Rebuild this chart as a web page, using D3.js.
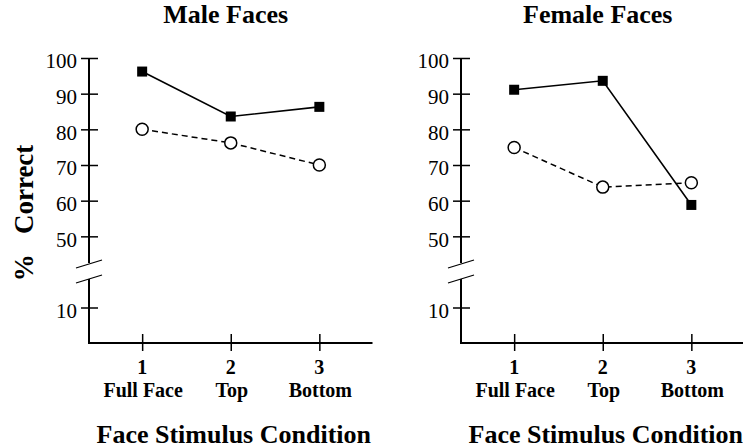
<!DOCTYPE html>
<html>
<head>
<meta charset="utf-8">
<script src="https://cdn.jsdelivr.net/npm/d3@7"></script>
<style>
  html, body { margin: 0; padding: 0; background: #fff; }
  svg { display: block; font-family: 'Liberation Serif', 'Times New Roman', serif; }
</style>
</head>
<body>
<div id="chart"></div>
<script>
// Data
const conditions = ['1', '2', '3'];
const conditionNames = ['Full Face', 'Top', 'Bottom'];
const yTickValues = [10, 50, 60, 70, 80, 90, 100];
const panelTitles = ['Male Faces', 'Female Faces'];
const maleSolid = [96.2, 83.6, 86.3];
const maleOpen = [80.0, 76.2, 70.0];
const femaleSolid = [91.1, 93.6, 58.8];
const femaleOpen = [74.9, 63.8, 65.0];

const width = 743;
const height = 448;

const svg = d3.select('#chart').append('svg')
  .attr('width', width)
  .attr('height', height)
  .attr('viewBox', [0, 0, width, height]);

// Broken y axis: 20..40 collapsed onto the break
const yBottom = 343, yBreak = 272, yTop = 58;
const y = d3.scaleLinear()
  .domain([0, 20, 40, 100])
  .range([yBottom, yBreak, yBreak, yTop]);

function drawPanel(x0, title, solid, open) {
  const g = svg.append('g');
  const xRight = x0 + 283.5;

  const x = d3.scalePoint()
    .domain(conditions)
    .range([x0, xRight])
    .padding(0.6);

  // title
  g.append('text')
    .attr('x', x('2') - 5)
    .attr('y', 23)
    .attr('text-anchor', 'middle')
    .attr('font-size', 26)
    .attr('font-weight', 'bold')
    .text(title);

  // y axis ticks + labels
  const yAxis = g.append('g')
    .attr('transform', `translate(${x0},0)`)
    .call(d3.axisLeft(y).tickValues(yTickValues).tickSize(8).tickPadding(4));
  yAxis.select('.domain').remove();
  yAxis.selectAll('.tick line')
    .attr('x1', -8).attr('x2', 9)
    .attr('stroke', '#000').attr('stroke-width', 1.5);
  yAxis.selectAll('.tick text')
    .attr('font-family', 'Liberation Serif, serif')
    .attr('font-size', 21)
    .attr('fill', '#000')
    .attr('x', -12)
    .attr('dy', '0.47em');

  // y axis line with break
  g.append('line')
    .attr('x1', x0).attr('x2', x0)
    .attr('y1', yTop).attr('y2', yBreak - 9)
    .attr('stroke', '#000').attr('stroke-width', 2);
  g.append('line')
    .attr('x1', x0).attr('x2', x0)
    .attr('y1', yBreak + 7).attr('y2', yBottom)
    .attr('stroke', '#000').attr('stroke-width', 2);
  [-8, 7].forEach(dy => {
    g.append('line')
      .attr('x1', x0 - 13).attr('y1', yBreak + dy + 4)
      .attr('x2', x0 + 13).attr('y2', yBreak + dy - 4)
      .attr('stroke', '#000').attr('stroke-width', 1.3);
  });

  // x axis
  const xAxis = g.append('g')
    .attr('transform', `translate(0,${yBottom})`)
    .call(d3.axisBottom(x).tickSize(8).tickSizeOuter(0));
  xAxis.select('.domain').remove();
  xAxis.selectAll('.tick line')
    .attr('y1', -9).attr('y2', 8)
    .attr('stroke', '#000').attr('stroke-width', 1.5);
  xAxis.selectAll('.tick text').remove();
  g.append('line')
    .attr('x1', x0 - 1).attr('x2', xRight)
    .attr('y1', yBottom).attr('y2', yBottom)
    .attr('stroke', '#000').attr('stroke-width', 2);

  conditions.forEach((c, i) => {
    g.append('text')
      .attr('x', x(c))
      .attr('y', 374)
      .attr('text-anchor', 'middle')
      .attr('font-size', 20)
      .attr('font-weight', 'bold')
      .text(c);
    g.append('text')
      .attr('x', x(c) + 1)
      .attr('y', 397)
      .attr('text-anchor', 'middle')
      .attr('font-size', 20)
      .attr('font-weight', 'bold')
      .text(conditionNames[i]);
  });

  g.append('text')
    .attr('x', x('2') + 3)
    .attr('y', 443)
    .attr('text-anchor', 'middle')
    .attr('font-size', 26)
    .attr('font-weight', 'bold')
    .text('Face Stimulus Condition');

  const line = d3.line()
    .x((d, i) => x(conditions[i]))
    .y(d => y(d));

  // open circles, dashed
  g.append('path')
    .datum(open)
    .attr('d', line)
    .attr('fill', 'none')
    .attr('stroke', '#000')
    .attr('stroke-width', 1.5)
    .attr('stroke-dasharray', '6,4');
  g.selectAll('circle.open')
    .data(open)
    .join('circle')
    .attr('class', 'open')
    .attr('cx', (d, i) => x(conditions[i]))
    .attr('cy', d => y(d))
    .attr('r', 6)
    .attr('fill', '#fff')
    .attr('stroke', '#000')
    .attr('stroke-width', 1.5);

  // filled squares, solid
  g.append('path')
    .datum(solid)
    .attr('d', line)
    .attr('fill', 'none')
    .attr('stroke', '#000')
    .attr('stroke-width', 1.6);
  g.selectAll('rect.solid')
    .data(solid)
    .join('rect')
    .attr('class', 'solid')
    .attr('x', (d, i) => x(conditions[i]) - 5)
    .attr('y', d => y(d) - 5)
    .attr('width', 10)
    .attr('height', 10)
    .attr('fill', '#000');
}

drawPanel(89, panelTitles[0], maleSolid, maleOpen);
drawPanel(461, panelTitles[1], femaleSolid, femaleOpen);

// shared y label
svg.append('text')
  .attr('transform', 'translate(33,213) rotate(-90)')
  .attr('text-anchor', 'middle')
  .attr('font-size', 27)
  .attr('font-weight', 'bold')
  .attr('xml:space', 'preserve')
  .style('white-space', 'pre')
  .text('%   Correct');
</script>
</body>
</html>
